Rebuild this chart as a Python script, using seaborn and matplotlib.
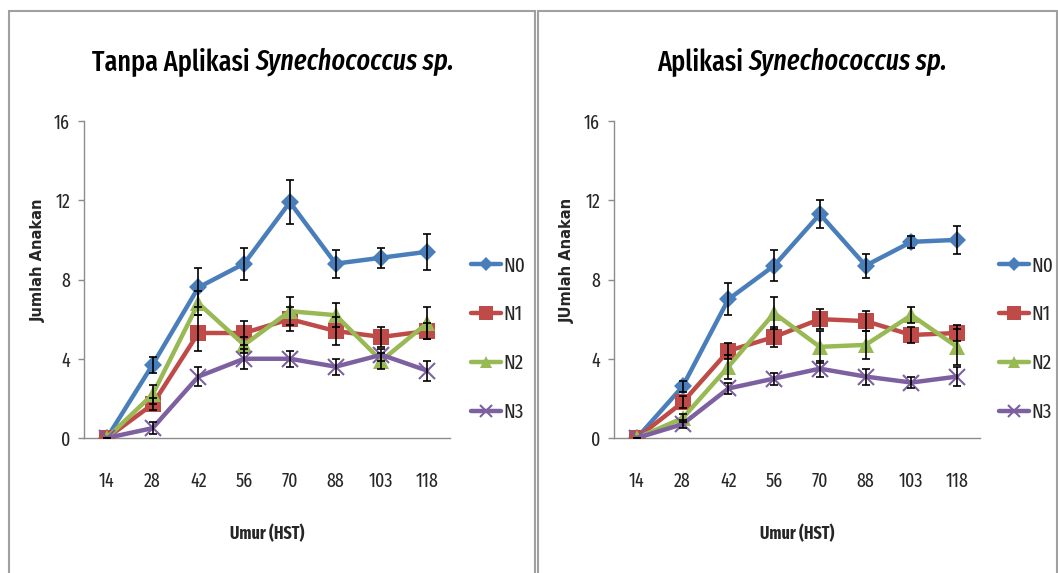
import matplotlib
matplotlib.use("Agg")
import matplotlib.pyplot as plt
import seaborn as sns
import pandas as pd
from matplotlib.patches import Rectangle
from matplotlib.lines import Line2D

days = ["14", "28", "42", "56", "70", "88", "103", "118"]
series = ["N0", "N1", "N2", "N3"]

# Panel 1: Tanpa Aplikasi
p1_N0 = [0, 3.7, 7.6, 8.8, 11.9, 8.8, 9.1, 9.4]
p1_N1 = [0, 1.7, 5.3, 5.3, 6.0, 5.4, 5.1, 5.4]
p1_N2 = [0, 2.2, 6.8, 4.7, 6.4, 6.2, 3.9, 5.8]
p1_N3 = [0, 0.5, 3.1, 4.0, 4.0, 3.6, 4.2, 3.4]
p1_N0_err = [0, 0.4, 1.0, 0.8, 1.1, 0.7, 0.5, 0.9]
p1_N1_err = [0, 0.3, 0.9, 0.6, 0.6, 0.7, 0.5, 0.4]
p1_N2_err = [0, 0.5, 0.6, 0.4, 0.7, 0.6, 0.4, 0.8]
p1_N3_err = [0, 0.3, 0.5, 0.5, 0.4, 0.4, 0.3, 0.5]

# Panel 2: Aplikasi
p2_N0 = [0, 2.6, 7.0, 8.7, 11.3, 8.7, 9.9, 10.0]
p2_N1 = [0, 1.8, 4.4, 5.1, 6.0, 5.9, 5.2, 5.3]
p2_N2 = [0, 1.0, 3.6, 6.3, 4.6, 4.7, 6.2, 4.6]
p2_N3 = [0, 0.7, 2.5, 3.0, 3.5, 3.1, 2.8, 3.1]
p2_N0_err = [0, 0.3, 0.8, 0.8, 0.7, 0.6, 0.3, 0.7]
p2_N1_err = [0, 0.3, 0.4, 0.5, 0.5, 0.5, 0.4, 0.4]
p2_N2_err = [0, 0.2, 0.6, 0.8, 0.8, 0.7, 0.4, 0.9]
p2_N3_err = [0, 0.2, 0.3, 0.3, 0.4, 0.4, 0.3, 0.5]

titles = [("Tanpa Aplikasi ", "Synechococcus sp."), ("Aplikasi ", "Synechococcus sp.")]
ylabels = ["Jumlah Anakan", "JUmlah Anakan"]
xlabel = "Umur (HST)"
yticks = [0, 4, 8, 12, 16]

colors = {"N0": "#4A7EBB", "N1": "#BE4B48", "N2": "#98B954", "N3": "#7D60A0"}
markers = {"N0": "D", "N1": "s", "N2": "^", "N3": "x"}
msizes = {"N0": 9, "N1": 12, "N2": 11, "N3": 11}

sns.set_theme(style="white")
cond = ["Fira Sans Extra Condensed", "DejaVu Sans"]
plt.rcParams["font.family"] = cond

def build(vals, errs):
    rows = []
    for s, v, e in zip(series, vals, errs):
        for i, d in enumerate(days):
            rows.append({"pos": i, "day": d, "series": s, "value": v[i], "err": e[i]})
    return pd.DataFrame(rows)

df1 = build([p1_N0, p1_N1, p1_N2, p1_N3], [p1_N0_err, p1_N1_err, p1_N2_err, p1_N3_err])
df2 = build([p2_N0, p2_N1, p2_N2, p2_N3], [p2_N0_err, p2_N1_err, p2_N2_err, p2_N3_err])

W, H = 1058, 573
fig = plt.figure(figsize=(W / 100, H / 100), dpi=100)

# panel frames
for x0, x1 in [(9, 535), (538, 1057)]:
    fig.patches.append(Rectangle((x0 / W, -0.01), (x1 - x0) / W, 1.01 - 11 / H,
                                 transform=fig.transFigure, fill=False,
                                 edgecolor="#A0A0A0", linewidth=1.5))

axes_left = [84, 614]
title_x = [92, 657]
ylab_x = [38, 567]
xlab_cx = [267, 797]
leg_x = [471, 999]

for k, df in enumerate([df1, df2]):
    ax = fig.add_axes([axes_left[k] / W, (H - 438) / H, 366 / W, 317 / H])
    for s in series:
        sub = df[df.series == s]
        ax.errorbar(sub["pos"], sub["value"], yerr=sub["err"], fmt="none",
                    ecolor="black", elinewidth=1.2, capsize=3.2, capthick=1.2, zorder=4)
    for s in series:
        sub = df[df.series == s]
        sns.lineplot(data=sub, x="pos", y="value", color=colors[s], marker=markers[s],
                     markersize=msizes[s], linewidth=3.2, ax=ax, legend=False, zorder=3,
                     markeredgewidth=1.5 if s == "N3" else 0, markeredgecolor=colors[s])
    ax.set_xlim(-0.5, 7.5)
    ax.set_ylim(0, 16)
    ax.set_yticks(yticks)
    ax.set_xticks(range(len(days)))
    ax.set_xticklabels(days)
    ax.set_xlabel("")
    ax.set_ylabel("")
    for sp in ["top", "right"]:
        ax.spines[sp].set_visible(False)
    for sp in ["left", "bottom"]:
        ax.spines[sp].set_color("#8C8C8C")
        ax.spines[sp].set_linewidth(1.0)
    ax.tick_params(axis="y", length=4, width=1, color="#8C8C8C", direction="out",
                   labelsize=14, pad=6, left=True)
    ax.tick_params(axis="x", length=0, labelsize=14, pad=24)
    ax.patch.set_alpha(0)

    # title: normal + italic pieces
    t1 = fig.text(title_x[k] / W, 1 - 70 / H, titles[k][0], fontsize=20.5,
                  fontweight="medium", ha="left", va="baseline", color="black")
    ax.annotate(titles[k][1], xy=(1, 0), xycoords=t1, xytext=(0, 0),
                textcoords="offset points", fontsize=20.5, style="italic",
                fontweight="medium", ha="left", va="bottom", color="black",
                annotation_clip=False)

    fig.text(ylab_x[k] / W, 1 - 260 / H, ylabels[k], rotation=90, fontsize=10.5,
             fontweight="bold", family="DejaVu Sans", ha="center", va="center")
    fig.text(xlab_cx[k] / W, 1 - 534 / H, xlabel, fontsize=12.5, fontweight="bold",
             ha="center", va="center")

    handles = [Line2D([], [], color=colors[s], marker=markers[s], linewidth=3.2,
                      markersize=msizes[s] * 0.8, markeredgewidth=1.5 if s == "N3" else 0,
                      markeredgecolor=colors[s]) for s in series]
    fig.legend(handles, series, loc="upper left",
               bbox_to_anchor=(leg_x[k] / W, 1 - 256 / H), frameon=False,
               fontsize=15, handlelength=1.45, handletextpad=0.1, labelspacing=1.41,
               borderpad=0, borderaxespad=0)

fig.savefig("out.png", dpi=100)
